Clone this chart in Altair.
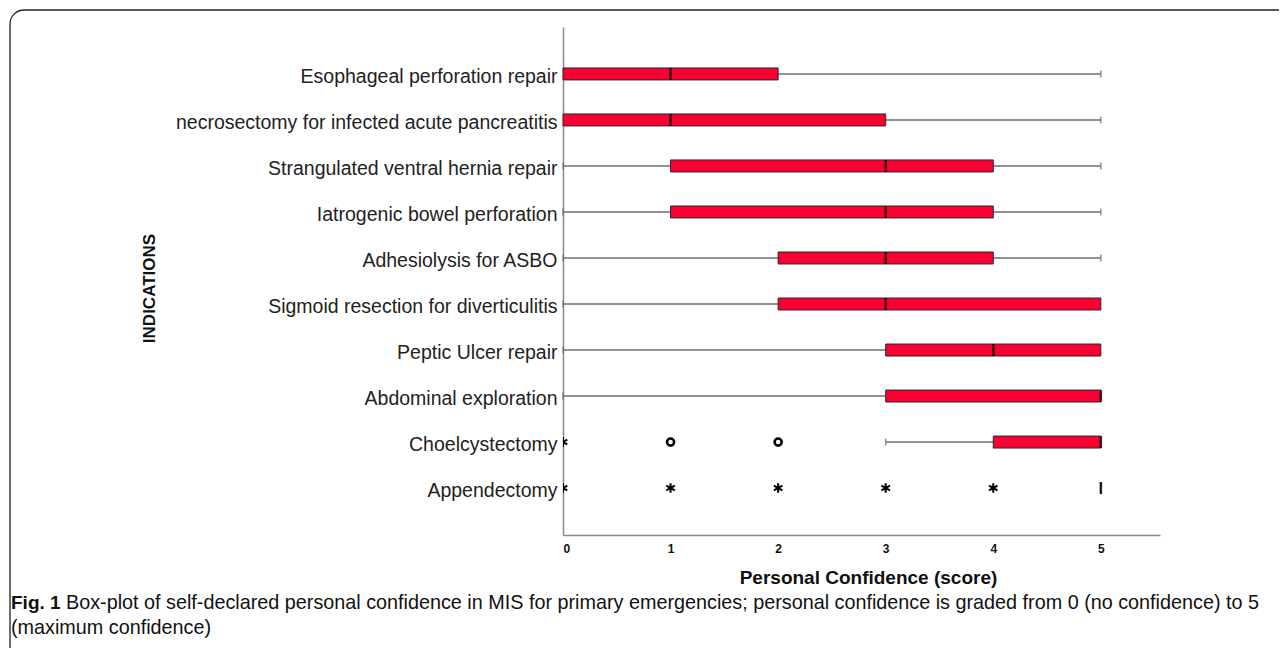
import altair as alt
import pandas as pd

categories = [
    "Esophageal perforation repair",
    "necrosectomy for infected acute pancreatitis",
    "Strangulated ventral hernia repair",
    "Iatrogenic bowel perforation",
    "Adhesiolysis for ASBO",
    "Sigmoid resection for diverticulitis",
    "Peptic Ulcer repair",
    "Abdominal exploration",
    "Choelcystectomy",
    "Appendectomy",
]
whisker_low = [0, 0, 0, 0, 0, 0, 0, 0, 3, 5]
q1 = [0, 0, 1, 1, 2, 2, 3, 3, 4, 5]
median = [1, 1, 3, 3, 3, 3, 4, 5, 5, 5]
q3 = [2, 3, 4, 4, 4, 5, 5, 5, 5, 5]
whisker_high = [5, 5, 5, 5, 5, 5, 5, 5, 5, 5]

circle_cat = ["Choelcystectomy", "Choelcystectomy"]
circle_val = [1, 2]
star_cat = ["Choelcystectomy", "Appendectomy", "Appendectomy", "Appendectomy", "Appendectomy", "Appendectomy"]
star_val = [0, 0, 1, 2, 3, 4]

x_ticks = [0, 1, 2, 3, 4, 5]
caption_bold = "Fig. 1"
caption_line1 = ("Box-plot of self-declared personal confidence in MIS for primary emergencies; "
                 "personal confidence is graded from 0 (no confidence) to 5")
caption_line2 = "(maximum confidence)"

box = pd.DataFrame({"cat": categories, "lo": whisker_low, "q1": q1, "med": median,
                    "q3": q3, "hi": whisker_high})
caps_rows = []
for c, l, a, b, h in zip(categories, whisker_low, q1, q3, whisker_high):
    if l < a:
        caps_rows.append({"cat": c, "v": l})
    if h > b:
        caps_rows.append({"cat": c, "v": h})
caps = pd.DataFrame(caps_rows)
circ = pd.DataFrame({"cat": circle_cat, "v": circle_val})
stars = pd.DataFrame({"cat": star_cat, "v": star_val})

LBL = "Liberation Sans, Arial, sans-serif"
CAP = "Liberation Sans, Arial, sans-serif"

xs = alt.Scale(domain=[0, 5.55], nice=False, zero=False)
ys = alt.Scale(type="band", domain=categories, paddingInner=0, paddingOuter=0.52)

y_axis = alt.Axis(title="INDICATIONS", titleFont=LBL, titleFontSize=17, titleFontWeight="bold",
                  titleColor="#111", titleAngle=270, titleX=-414, titleY=261,
                  titleAlign="center", titleBaseline="middle",
                  labelFont=LBL, labelFontSize=19.5, labelColor="#222", labelLimit=600,
                  labelPadding=6, labelOffset=3, ticks=False, domainColor="#8a8a8a",
                  domainWidth=1.5, grid=False)
x_axis = alt.Axis(title="Personal Confidence (score)", titleFont=LBL, titleFontSize=19,
                  titleFontWeight="bold", titleColor="#111", titleX=305, titleY=42,
                  titleBaseline="middle",
                  values=x_ticks, format="d", labelFont=LBL, labelFontSize=12,
                  labelFontWeight="bold", labelColor="#111", labelPadding=8,
                  ticks=False, domainColor="#8a8a8a", domainWidth=1.5, grid=False)

base = alt.Chart(box)
whisk = base.mark_rule(color="#6e6e6e", strokeWidth=1.6).encode(
    x=alt.X("lo:Q", scale=xs, axis=x_axis), x2="hi:Q",
    y=alt.Y("cat:N", scale=ys, axis=y_axis, sort=categories))
capm = alt.Chart(caps).mark_tick(color="#6e6e6e", size=7, thickness=1.6, orient="vertical").encode(
    x=alt.X("v:Q", scale=xs), y=alt.Y("cat:N", scale=ys, sort=categories))
bars = base.mark_bar(size=12, color="#fa0032", stroke="#2a2a2a", strokeWidth=1).encode(
    x=alt.X("q1:Q", scale=xs), x2="q3:Q", y=alt.Y("cat:N", scale=ys, sort=categories))
meds = base.mark_tick(color="#000000", size=12, thickness=2.6, orient="vertical").encode(
    x=alt.X("med:Q", scale=xs), y=alt.Y("cat:N", scale=ys, sort=categories))
circles = alt.Chart(circ).mark_point(shape="circle", filled=False, color="#000", strokeWidth=2.6,
                                     size=50, opacity=1, clip=True).encode(
    x=alt.X("v:Q", scale=xs), y=alt.Y("cat:N", scale=ys, sort=categories))
star_path = "M0,-1L0,1M-0.9,-0.5L0.9,0.5M-0.9,0.5L0.9,-0.5"
starm = alt.Chart(stars).mark_point(shape=star_path, filled=False, color="#000", strokeWidth=2,
                                    size=90, opacity=1, clip=True).encode(
    x=alt.X("v:Q", scale=xs), y=alt.Y("cat:N", scale=ys, sort=categories))

one = alt.Data(values=[{"k": 1}])
frame = alt.Chart(one).mark_rect(fillOpacity=0, stroke="#222", strokeWidth=1.3, cornerRadius=14).encode(
    x=alt.value(-553), x2=alt.value(740), y=alt.value(-17), y2=alt.value(635))

cap_df = pd.DataFrame({"t": [caption_bold]})
cap1_df = pd.DataFrame({"t": [caption_line1]})
cap2_df = pd.DataFrame({"t": [caption_line2]})
t_bold = alt.Chart(cap_df).mark_text(font=CAP, fontSize=19, fontWeight="bold", align="left",
                                     baseline="alphabetic", color="#111").encode(
    text="t:N", x=alt.value(-552), y=alt.value(582))
t1 = alt.Chart(cap1_df).mark_text(font=CAP, fontSize=19.8, align="left",
                                  baseline="alphabetic", color="#111").encode(
    text="t:N", x=alt.value(-497), y=alt.value(582))
t2 = alt.Chart(cap2_df).mark_text(font=CAP, fontSize=19.8, align="left",
                                  baseline="alphabetic", color="#111").encode(
    text="t:N", x=alt.value(-552), y=alt.value(607))

chart = alt.layer(frame, whisk, capm, bars, meds, circles, starm, t_bold, t1, t2).properties(
    width=597, height=508,
    autosize=alt.AutoSizeParams(type="none"),
    padding={"left": 555, "top": 19, "right": 119, "bottom": 113},
).configure_view(stroke=None)

chart.save("out.html", embed_options={"renderer": "svg", "actions": False})
